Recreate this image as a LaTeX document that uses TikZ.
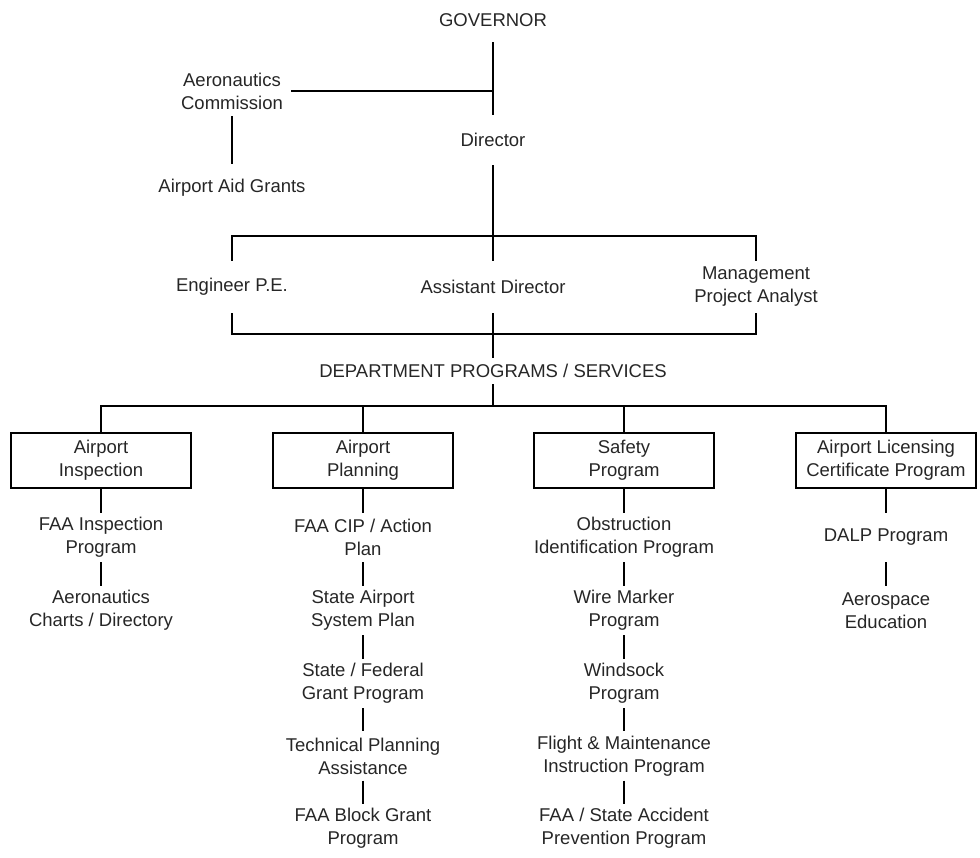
\documentclass[tikz,border=0pt]{standalone}
\usepackage{fontspec}
\setmainfont{Liberation Sans}
\begin{document}
\begin{tikzpicture}[x=1pt,y=-1pt,
  lbl/.style={font=\fontsize{18.5pt}{23pt}\selectfont, align=center, inner sep=0pt, text=black!85},
  top/.style={lbl, minimum height=50pt},
  mid/.style={lbl, minimum height=52pt},
  prog/.style={lbl, minimum height=49pt},
  unit/.style={lbl, draw=black, line width=2.4pt, minimum width=180pt, minimum height=55pt},
  conn/.style={draw=black, line width=2pt}]
\useasboundingbox (0,0) rectangle (980,857);

% top part
\node[lbl, minimum height=44pt] (gov) at (493,20) {GOVERNOR};
\node[top] (dir) at (493,140) {Director};
\node[top, inner xsep=8pt] (comm) at (232,91) {Aeronautics\\Commission};
\node[lbl, minimum height=48pt] (aid) at (232,188) {Airport Aid Grants};

\node[mid] (eng) at (232,287) {Engineer P.E.};
\node[mid] (asst) at (493,287) {Assistant Director};
\node[mid] (mgmt) at (756,287) {Management\\Project Analyst};
\node[lbl, minimum height=26pt] (dept) at (493,371) {DEPARTMENT PROGRAMS / SERVICES};

\coordinate (topbar) at (493,236);
\coordinate (botbar) at (493,334);
\coordinate (progbar) at (493,406);

% program boxes
\node[unit] (b1) at (101,460.5) {Airport\\Inspection};
\node[unit] (b2) at (363,460.5) {Airport\\Planning};
\node[unit] (b3) at (624,460.5) {Safety\\Program};
\node[unit] (b4) at (886,460.5) {Airport Licensing\\Certificate Program};

% column 1
\node[prog] (a1) at (101,537.5) {FAA Inspection\\Program};
\node[prog] (a2) at (101,610.5) {Aeronautics\\Charts / Directory};

% column 2
\node[prog] (p1) at (363,537.5) {FAA CIP / Action\\Plan};
\node[prog] (p2) at (363,610.5) {State Airport\\System Plan};
\node[prog] (p3) at (363,683.5) {State / Federal\\Grant Program};
\node[prog] (p4) at (363,756) {Technical Planning\\Assistance};
\node[prog] (p5) at (363,828.5) {FAA Block Grant\\Program};

% column 3
\node[prog] (s1) at (624,537.5) {Obstruction\\Identification Program};
\node[prog] (s2) at (624,610.5) {Wire Marker\\Program};
\node[prog] (s3) at (624,683.5) {Windsock\\Program};
\node[prog] (s4) at (624,756) {Flight \& Maintenance\\Instruction Program};
\node[prog] (s5) at (624,828.5) {FAA / State Accident\\Prevention Program};

% column 4
\node[prog] (l1) at (886,537.5) {DALP Program};
\node[prog] (l2) at (886,610.5) {Aerospace\\Education};

% connectors
\draw[conn] (gov.south) -- (dir.north);
\draw[conn] (comm.east) -- (comm.east -| gov.south);
\draw[conn] (comm.south) -- (aid.north);
\draw[conn] (dir.south) -- (asst.north);
\draw[conn] (eng.north) |- (topbar) -| (mgmt.north);
\draw[conn] (eng.south) |- (botbar) -| (mgmt.south);
\draw[conn] (asst.south) -- (dept.north);
\draw[conn] (dept.south) -- (progbar);
\draw[conn] (b1.north) |- (progbar) -| (b4.north);
\draw[conn] (b2.north) -- (b2.north |- progbar);
\draw[conn] (b3.north) -- (b3.north |- progbar);

\draw[conn] (b1.south) -- (a1.north);
\draw[conn] (a1.south) -- (a2.north);

\draw[conn] (b2.south) -- (p1.north);
\draw[conn] (p1.south) -- (p2.north);
\draw[conn] (p2.south) -- (p3.north);
\draw[conn] (p3.south) -- (p4.north);
\draw[conn] (p4.south) -- (p5.north);

\draw[conn] (b3.south) -- (s1.north);
\draw[conn] (s1.south) -- (s2.north);
\draw[conn] (s2.south) -- (s3.north);
\draw[conn] (s3.south) -- (s4.north);
\draw[conn] (s4.south) -- (s5.north);

\draw[conn] (b4.south) -- (l1.north);
\draw[conn] (l1.south) -- (l2.north);
\end{tikzpicture}
\end{document}
